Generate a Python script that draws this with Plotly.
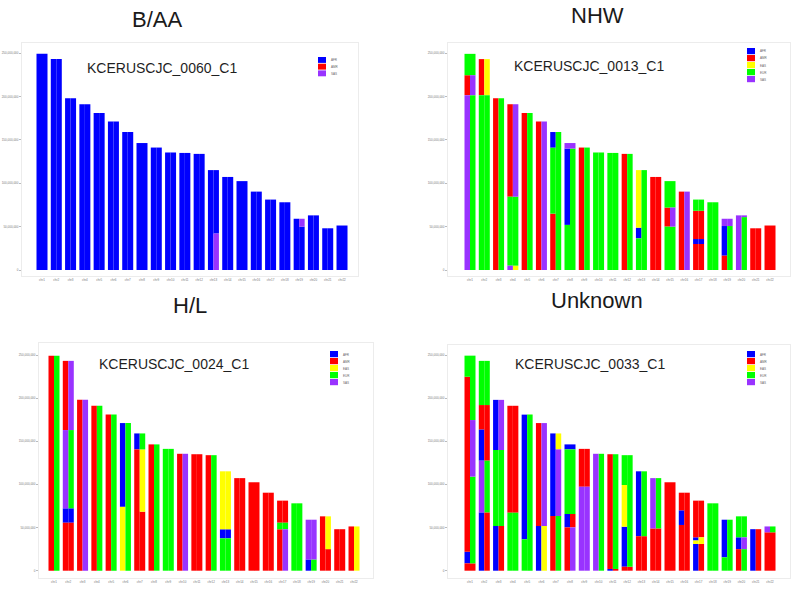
import plotly.graph_objects as go

W_PX, H_PX = 793, 592

CHROMS = [f"chr{i}" for i in range(1, 23)]
ANCESTRIES = ["AFR", "AMR", "EAS", "EUR", "SAS"]
COLORS = {"AFR": "#0000FF", "AMR": "#FF0000", "EAS": "#FFFF00", "EUR": "#00FF00", "SAS": "#9933FF"}
Y_TICKS = [0, 50e6, 100e6, 150e6, 200e6, 250e6]

TITLES = ["B/AA", "NHW", "H/L", "Unknown"]
SAMPLES = ["KCERUSCJC_0060_C1", "KCERUSCJC_0013_C1", "KCERUSCJC_0024_C1", "KCERUSCJC_0033_C1"]
LEGENDS = [["AFR", "AMR", "SAS"], ANCESTRIES, ANCESTRIES, ANCESTRIES]

# segments per chromosome: (ancestry, segment end in Mb); start = previous end
BAA_HAP1 = [
    [("AFR", 249.25)], [("AFR", 243.2)], [("AFR", 198.0)], [("AFR", 191.15)], [("AFR", 180.9)],
    [("AFR", 171.1)], [("AFR", 159.1)], [("AFR", 146.4)], [("AFR", 141.2)], [("AFR", 135.5)],
    [("AFR", 135.0)], [("AFR", 133.9)], [("AFR", 115.2)], [("AFR", 107.3)], [("AFR", 102.5)],
    [("AFR", 90.4)], [("AFR", 81.2)], [("AFR", 78.1)], [("AFR", 59.1)], [("AFR", 63.0)],
    [("AFR", 48.1)], [("AFR", 51.3)],
]
BAA_HAP2 = [
    [("AFR", 249.25)], [("AFR", 243.2)], [("AFR", 198.0)], [("AFR", 191.15)], [("AFR", 180.9)],
    [("AFR", 171.1)], [("AFR", 159.1)], [("AFR", 146.4)], [("AFR", 141.2)], [("AFR", 135.5)],
    [("AFR", 135.0)], [("AFR", 133.9)], [("SAS", 42.0), ("AFR", 115.2)], [("AFR", 107.3)], [("AFR", 102.5)],
    [("AFR", 90.4)], [("AFR", 81.2)], [("AFR", 78.1)], [("AFR", 50.0), ("SAS", 59.1)], [("AFR", 63.0)],
    [("AFR", 48.1)], [("AFR", 51.3)],
]

NHW_HAP1 = [
    [("SAS", 201.6), ("AMR", 224.6), ("EUR", 249.25)],
    [("EUR", 201.6), ("AMR", 243.2)],
    [("AMR", 198.0)],
    [("SAS", 5.0), ("EUR", 84.5), ("AMR", 191.15)],
    [("AMR", 180.9)],
    [("AMR", 171.1)],
    [("AMR", 65.0), ("EUR", 141.0), ("AFR", 159.1)],
    [("EUR", 52.0), ("AFR", 140.0), ("SAS", 146.4)],
    [("AMR", 141.2)],
    [("EUR", 135.5)],
    [("EUR", 135.0)],
    [("AMR", 133.9)],
    [("EUR", 36.5), ("AFR", 48.8), ("EAS", 115.2)],
    [("AMR", 107.3)],
    [("EUR", 50.0), ("AMR", 72.0), ("EUR", 102.5)],
    [("AMR", 90.4)],
    [("AMR", 30.0), ("AFR", 35.7), ("AMR", 68.3), ("EUR", 81.2)],
    [("EUR", 78.1)],
    [("AMR", 16.5), ("AFR", 50.7), ("SAS", 59.1)],
    [("SAS", 63.0)],
    [("AMR", 48.1)],
    [("AMR", 51.3)],
]
NHW_HAP2 = [
    [("EUR", 201.6), ("SAS", 224.6), ("EUR", 249.25)],
    [("EUR", 201.6), ("EAS", 243.2)],
    [("EUR", 198.0)],
    [("EAS", 5.0), ("EUR", 84.5), ("SAS", 191.15)],
    [("EUR", 180.9)],
    [("SAS", 171.1)],
    [("EUR", 159.1)],
    [("EUR", 140.0), ("SAS", 146.4)],
    [("EUR", 141.2)],
    [("EUR", 135.5)],
    [("EUR", 135.0)],
    [("EUR", 133.9)],
    [("EUR", 115.2)],
    [("AMR", 107.3)],
    [("EUR", 50.0), ("SAS", 72.0), ("EUR", 102.5)],
    [("SAS", 90.4)],
    [("AMR", 30.0), ("AFR", 35.7), ("AMR", 68.3), ("EUR", 81.2)],
    [("EUR", 78.1)],
    [("EUR", 50.7), ("SAS", 59.1)],
    [("EUR", 61.0), ("SAS", 63.0)],
    [("AMR", 48.1)],
    [("AMR", 51.3)],
]

HL_HAP1 = [
    [("AMR", 249.25)],
    [("AMR", 55.6), ("AFR", 72.3), ("SAS", 163.0), ("AMR", 243.2)],
    [("AMR", 198.0)],
    [("AMR", 191.15)],
    [("AMR", 180.9)],
    [("EAS", 74.0), ("AFR", 171.1)],
    [("AMR", 140.6), ("AFR", 159.1)],
    [("AMR", 146.4)],
    [("EUR", 141.2)],
    [("AMR", 135.5)],
    [("AMR", 135.0)],
    [("AMR", 133.9)],
    [("EUR", 37.5), ("AFR", 48.0), ("EAS", 115.2)],
    [("AMR", 107.3)],
    [("AMR", 102.5)],
    [("AMR", 90.4)],
    [("AMR", 48.0), ("EUR", 55.6), ("AMR", 81.2)],
    [("EUR", 78.1)],
    [("AFR", 13.0), ("SAS", 59.1)],
    [("AMR", 63.0)],
    [("AMR", 48.1)],
    [("AMR", 51.3)],
]
HL_HAP2 = [
    [("EUR", 249.25)],
    [("AMR", 55.6), ("AFR", 72.3), ("EUR", 163.0), ("SAS", 243.2)],
    [("SAS", 198.0)],
    [("EUR", 191.15)],
    [("EUR", 180.9)],
    [("EUR", 171.1)],
    [("AMR", 68.4), ("EAS", 140.6), ("EUR", 159.1)],
    [("EUR", 146.4)],
    [("EUR", 141.2)],
    [("SAS", 135.5)],
    [("AMR", 135.0)],
    [("EUR", 133.9)],
    [("EUR", 37.5), ("AFR", 48.0), ("EAS", 115.2)],
    [("AMR", 107.3)],
    [("AMR", 102.5)],
    [("AMR", 90.4)],
    [("SAS", 48.0), ("EUR", 55.6), ("AMR", 81.2)],
    [("EUR", 78.1)],
    [("EUR", 13.0), ("SAS", 59.1)],
    [("AMR", 25.0), ("EAS", 63.0)],
    [("AMR", 48.1)],
    [("EAS", 51.3)],
]

UNK_HAP1 = [
    [("AMR", 8.5), ("AFR", 22.0), ("AMR", 224.8), ("EUR", 249.25)],
    [("AFR", 67.6), ("SAS", 127.5), ("AFR", 163.8), ("AMR", 192.0), ("EUR", 243.2)],
    [("AFR", 51.8), ("EUR", 139.9), ("AFR", 198.0)],
    [("EUR", 67.2), ("AMR", 191.15)],
    [("EUR", 36.3), ("AFR", 180.9)],
    [("AFR", 51.8), ("AMR", 171.1)],
    [("AMR", 63.4), ("AFR", 159.1)],
    [("AMR", 50.2), ("AFR", 65.7), ("EUR", 140.6), ("AFR", 146.4)],
    [("SAS", 97.3), ("AMR", 141.2)],
    [("SAS", 135.5)],
    [("AFR", 2.0), ("AMR", 135.0)],
    [("AMR", 4.6), ("AFR", 51.0), ("EAS", 99.3), ("EUR", 133.9)],
    [("AMR", 40.0), ("AFR", 115.2)],
    [("AMR", 49.0), ("SAS", 107.3)],
    [("AMR", 102.5)],
    [("AMR", 53.0), ("AFR", 70.0), ("AMR", 90.4)],
    [("AFR", 31.0), ("EAS", 35.0), ("AFR", 38.7), ("AMR", 81.2)],
    [("EUR", 78.1)],
    [("EUR", 15.5), ("AFR", 59.1)],
    [("AMR", 25.0), ("AFR", 38.7), ("EUR", 63.0)],
    [("AFR", 48.1)],
    [("AMR", 44.5), ("SAS", 51.3)],
]
UNK_HAP2 = [
    [("AMR", 8.5), ("EUR", 109.0), ("SAS", 174.6), ("EUR", 249.25)],
    [("AMR", 67.6), ("EUR", 127.5), ("AMR", 192.0), ("EUR", 243.2)],
    [("AMR", 51.8), ("EUR", 139.9), ("SAS", 198.0)],
    [("EUR", 67.2), ("AMR", 191.15)],
    [("EUR", 180.9)],
    [("EAS", 51.8), ("SAS", 171.1)],
    [("EUR", 63.4), ("SAS", 140.6), ("EAS", 159.1)],
    [("SAS", 50.2), ("AMR", 65.7), ("EUR", 140.6), ("AFR", 146.4)],
    [("SAS", 97.3), ("AMR", 141.2)],
    [("EUR", 135.5)],
    [("AMR", 2.0), ("EUR", 135.0)],
    [("AMR", 4.6), ("EUR", 133.9)],
    [("AMR", 40.0), ("EUR", 115.2)],
    [("AMR", 49.0), ("EUR", 107.3)],
    [("AMR", 102.5)],
    [("AMR", 90.4)],
    [("AMR", 31.0), ("EAS", 38.7), ("AMR", 81.2)],
    [("EUR", 78.1)],
    [("EUR", 59.1)],
    [("EUR", 25.0), ("SAS", 38.7), ("EUR", 63.0)],
    [("AMR", 48.1)],
    [("AMR", 44.5), ("EUR", 51.3)],
]

PANELS = [(BAA_HAP1, BAA_HAP2), (NHW_HAP1, NHW_HAP2), (HL_HAP1, HL_HAP2), (UNK_HAP1, UNK_HAP2)]

# ---- layout geometry (pixels) ----
GEOM = [
    dict(x0=22, x1=358, y0=43, y1=276, c1=42, dx=14.286, zero=270.0, ppm=0.8672),
    dict(x0=448, x1=790, y0=43, y1=276, c1=470, dx=14.286, zero=270.0, ppm=0.8672),
    dict(x0=39, x1=373, y0=343, y1=578, c1=54, dx=14.286, zero=570.7, ppm=0.8628),
    dict(x0=448, x1=790, y0=345, y1=578, c1=470, dx=14.286, zero=570.7, ppm=0.8628),
]
TITLE_POS = [(157, 20), (597, 16), (190, 305), (597, 300)]
SAMPLE_POS = [(85, 68), (512, 66), (97, 364), (513, 364)]
LEGEND_POS = [(318, 57, 6.7), (747, 48, 7.0), (330, 351, 7.0), (747, 351, 7.0)]

HALF = 0.1925
BAR_W = 0.385


def px(x):
    return x / W_PX


def py(y):
    return 1 - y / H_PX


fig = go.Figure()
layout = {}
shapes = []
annotations = []

for p, (hapA, hapB) in enumerate(PANELS):
    g = GEOM[p]
    n = "" if p == 0 else str(p + 1)
    xref, yref = "x" + n, "y" + n
    for anc in ANCESTRIES:
        xs, bases, heights = [], [], []
        for h, hap in enumerate((hapA, hapB)):
            offset = -HALF if h == 0 else HALF
            for ci, segs in enumerate(hap):
                start = 0.0
                for a, end in segs:
                    if a == anc:
                        xs.append(ci + 1 + offset)
                        bases.append(start * 1e6)
                        heights.append((end - start) * 1e6)
                    start = end
        if xs:
            fig.add_trace(go.Bar(
                x=xs, y=heights, base=bases, width=BAR_W, name=anc,
                marker=dict(color=COLORS[anc], line=dict(width=0)),
                xaxis=xref, yaxis=yref, showlegend=False,
            ))
    xr0 = 1 + (g["x0"] - g["c1"]) / g["dx"]
    xr1 = 1 + (g["x1"] - g["c1"]) / g["dx"]
    yr0 = (g["zero"] - g["y1"]) / g["ppm"] * 1e6
    yr1 = (g["zero"] - g["y0"]) / g["ppm"] * 1e6
    layout["xaxis" + n] = dict(
        domain=[px(g["x0"]), px(g["x1"])], range=[xr0, xr1], anchor=yref,
        tickvals=list(range(1, 23)), ticktext=CHROMS, tickangle=0,
        tickfont=dict(size=3, color="#777", family="Liberation Sans"),
        showgrid=False, zeroline=False, showline=True, mirror=True,
        linecolor="#ececec", linewidth=1, ticks="", fixedrange=True,
    )
    layout["yaxis" + n] = dict(
        domain=[py(g["y1"]), py(g["y0"])], range=[yr0, yr1], anchor=xref,
        tickvals=Y_TICKS, tickformat=",d",
        tickfont=dict(size=3, color="#777", family="Liberation Sans"),
        showgrid=False, zeroline=False, showline=True, mirror=True,
        linecolor="#ececec", linewidth=1, ticks="outside", ticklen=2,
        tickcolor="#bbb", fixedrange=True,
    )
    tx, ty = TITLE_POS[p]
    annotations.append(dict(
        x=px(tx), y=py(ty), xref="paper", yref="paper", text=TITLES[p],
        showarrow=False, xanchor="center", yanchor="middle",
        font=dict(size=22, color="#1a1a1a", family="Liberation Sans"),
    ))
    sx, sy = SAMPLE_POS[p]
    annotations.append(dict(
        x=px(sx), y=py(sy), xref="paper", yref="paper", text=SAMPLES[p],
        showarrow=False, xanchor="left", yanchor="middle",
        font=dict(size=14, color="#1f1f1f", family="Liberation Sans"),
    ))
    lx, ly, step = LEGEND_POS[p]
    for k, anc in enumerate(LEGENDS[p]):
        top = ly + k * step
        shapes.append(dict(
            type="rect", xref="paper", yref="paper",
            x0=px(lx), x1=px(lx + 8), y0=py(top + step - 0.8), y1=py(top),
            fillcolor=COLORS[anc], line=dict(width=0),
        ))
        annotations.append(dict(
            x=px(lx + 11), y=py(top + step / 2), xref="paper", yref="paper",
            text=anc, showarrow=False, xanchor="left", yanchor="middle",
            font=dict(size=3, color="#666", family="Liberation Sans"),
        ))

fig.update_layout(
    width=W_PX, height=H_PX,
    margin=dict(l=0, r=0, t=0, b=0),
    paper_bgcolor="white", plot_bgcolor="white",
    barmode="overlay", showlegend=False, hovermode=False,
    shapes=shapes, annotations=annotations,
    **layout,
)

fig.write_html(
    "out.html",
    config={"displayModeBar": False, "staticPlot": True},
    post_script="document.body.style.margin='0';document.body.style.padding='0';",
)
